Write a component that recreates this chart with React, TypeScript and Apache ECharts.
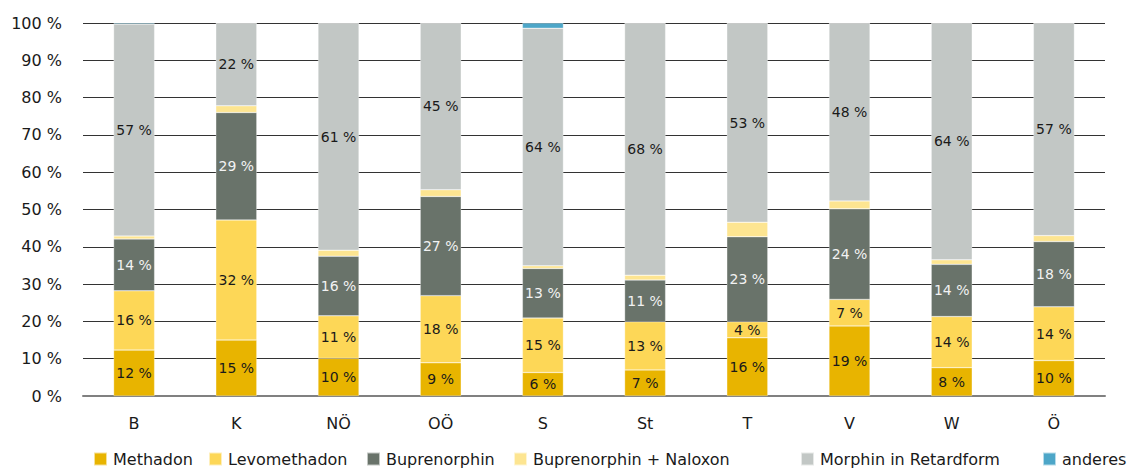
import React, { useEffect, useRef } from "react";
import * as echarts from "echarts";

const categories = ["B", "K", "NÖ", "OÖ", "S", "St", "T", "V", "W", "Ö"];
const methadon = [12.3, 15.0, 10.1, 8.9, 6.3, 7.0, 15.6, 18.8, 7.6, 9.5];
const levomethadon = [15.9, 32.2, 11.4, 18.0, 14.6, 12.9, 4.3, 7.1, 13.7, 14.4];
const buprenorphin = [13.9, 28.8, 16.0, 26.6, 13.3, 11.2, 22.8, 24.3, 14.0, 17.5];
const buprenorphinNaloxon = [0.8, 1.8, 1.6, 1.8, 0.7, 1.3, 3.9, 2.1, 1.2, 1.6];
const morphin = [56.8, 22.2, 60.9, 44.7, 63.7, 67.6, 53.4, 47.7, 63.5, 57.0];
const anderes = [0.3, 0, 0, 0, 1.4, 0, 0, 0, 0, 0];
const yTicks = [0, 10, 20, 30, 40, 50, 60, 70, 80, 90, 100];

const seriesDefs = [
  { name: "Methadon", data: methadon, color: "#E8B400", text: "#1a1a1a", legendX: 93 },
  { name: "Levomethadon", data: levomethadon, color: "#FDD757", text: "#1a1a1a", legendX: 208 },
  { name: "Buprenorphin", data: buprenorphin, color: "#69736A", text: "#f2f2f2", legendX: 366 },
  { name: "Buprenorphin + Naloxon", data: buprenorphinNaloxon, color: "#FDE591", text: "#1a1a1a", legendX: 513 },
  { name: "Morphin in Retardform", data: morphin, color: "#C2C7C5", text: "#1a1a1a", legendX: 800 },
  { name: "anderes", data: anderes, color: "#4DA6C8", text: "#1a1a1a", legendX: 1042 },
];

const FONT = "DejaVu Sans";

export default function App() {
  const ref = useRef<HTMLDivElement>(null);
  useEffect(() => {
    if (!ref.current) return;
    const chart = echarts.init(ref.current, undefined, { renderer: "svg" });
    chart.setOption({
      animation: false,
      textStyle: { fontFamily: FONT },
      grid: { left: 83, right: 27, top: 23, bottom: 72 },
      legend: seriesDefs.map((s) => ({
        top: 451,
        left: s.legendX,
        itemWidth: 13,
        itemHeight: 13,
        icon: "rect",
        padding: 0,
        textStyle: { fontSize: 16, color: "#1a1a1a", fontFamily: FONT, padding: [0, 0, 0, 1] },
        data: [s.name],
      })),
      xAxis: {
        type: "category",
        data: categories,
        axisTick: { show: false },
        axisLine: { show: true, lineStyle: { color: "#808080", width: 2 } },
        axisLabel: { fontSize: 16, color: "#1a1a1a", margin: 19, fontFamily: FONT },
      },
      yAxis: {
        type: "value",
        min: yTicks[0],
        max: yTicks[yTicks.length - 1],
        interval: 10,
        axisLine: { show: false },
        axisTick: { show: false },
        splitLine: { lineStyle: { color: "#333", width: 1 } },
        axisLabel: {
          fontSize: 16,
          color: "#1a1a1a",
          margin: 21,
          fontFamily: FONT,
          formatter: (v: number) => v + " %",
        },
      },
      series: seriesDefs.map((s) => ({
        name: s.name,
        type: "bar",
        stack: "total",
        barWidth: 41,
        data: s.data,
        itemStyle: { color: s.color, borderColor: "rgba(255,255,255,0.6)", borderWidth: 0.5 },
        label: {
          show: true,
          position: "inside",
          fontSize: 14,
          color: s.text,
          fontFamily: FONT,
          formatter: (p: any) => (p.value >= 4 ? Math.round(p.value) + " %" : ""),
        },
      })),
    });
    return () => chart.dispose();
  }, []);
  return (
    <div
      ref={ref}
      style={{ position: "absolute", left: 0, top: 0, width: 1132, height: 468 }}
    />
  );
}
